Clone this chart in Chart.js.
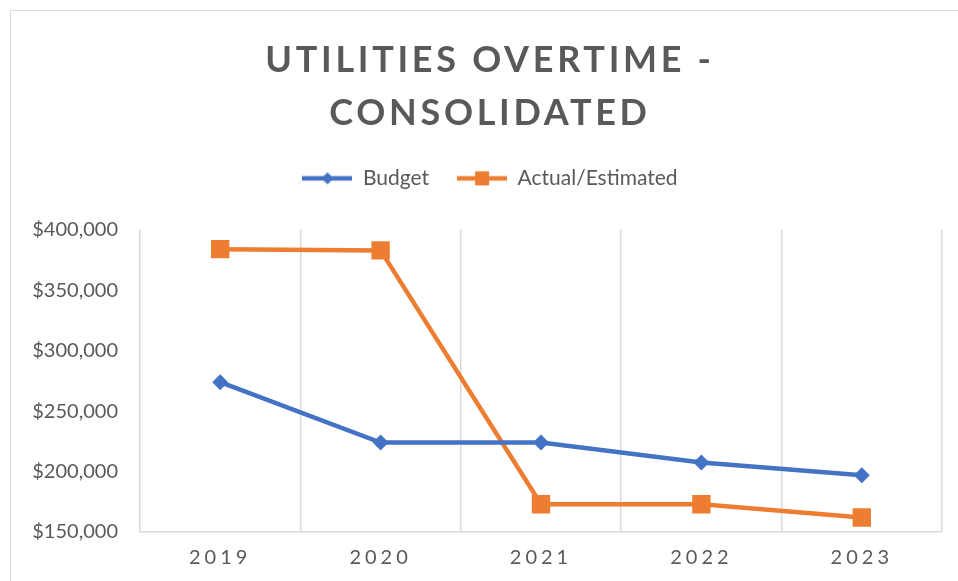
<!DOCTYPE html>
<html>
<head>
<meta charset="utf-8">
<title>Utilities Overtime - Consolidated</title>
<script src="https://cdn.jsdelivr.net/npm/chart.js@4.4.1/dist/chart.umd.min.js"></script>
<style>
  html, body { margin: 0; padding: 0; background: #fff; overflow: hidden; }
  #frame {
    position: absolute; left: 10px; top: 10px;
    width: 970px; height: 590px;
    border-left: 1px solid #d9d9d9; border-top: 1px solid #d9d9d9;
  }
  #chart-wrap { position: relative; width: 958px; height: 584px; }
</style>
</head>
<body>
<div id="frame">
  <div id="chart-wrap"><canvas id="utilities-chart"></canvas></div>
</div>
<script>
// chart data
const years = ['2019', '2020', '2021', '2022', '2023'];
const budget = [274000, 224000, 224000, 207500, 197000];
const actualEstimated = [384000, 383000, 173000, 173000, 162000];
const yMin = 150000;
const yMax = 400000;
const yStep = 50000;
const chartTitle = ['UTILITIES OVERTIME -', 'CONSOLIDATED'];

const BLUE = '#4472c4';
const ORANGE = '#ed7d31';
const TEXT = '#595959';
const GRID = '#d9d9d9';

// small line+marker swatch for the legend (like Excel's)
function legendSwatch(color, shape) {
  const c = document.createElement('canvas');
  c.width = 50; c.height = 16;
  const ctx = c.getContext('2d');
  ctx.strokeStyle = color;
  ctx.lineWidth = 4.5;
  ctx.beginPath(); ctx.moveTo(0, 8); ctx.lineTo(50, 8); ctx.stroke();
  ctx.fillStyle = color;
  if (shape === 'diamond') {
    ctx.beginPath();
    ctx.moveTo(25, 2); ctx.lineTo(31, 8); ctx.lineTo(25, 14); ctx.lineTo(19, 8);
    ctx.closePath(); ctx.fill();
  } else {
    ctx.fillRect(18, 1, 14, 14);
  }
  return c;
}
const swatches = [legendSwatch(BLUE, 'diamond'), legendSwatch(ORANGE, 'square')];

// canvas letterSpacing for the title and the year labels
function withSpacing(obj, fn, spacing) {
  if (!obj || obj['_orig_' + fn]) return;
  const orig = obj[fn];
  obj['_orig_' + fn] = orig;
  obj[fn] = function (...args) {
    const ctx = this.ctx;
    ctx.save();
    ctx.letterSpacing = spacing;
    orig.apply(this, args);
    ctx.restore();
  };
}
const spacingPlugin = {
  id: 'spacing',
  afterLayout(chart) {
    withSpacing(chart.titleBlock, 'draw', '3.7px');
    withSpacing(chart.scales.x, 'drawLabels', '4px');
  }
};

// empty axes only used as spacers (gap under legend, right margin)
const spacer = (axis, position, size) => ({
  axis: axis,
  position: position,
  display: true,
  grid: { display: false, drawTicks: false },
  border: { display: false },
  ticks: { display: false },
  afterFit(scale) {
    if (axis === 'x') scale.height = size; else scale.width = size;
  }
});

const ctx = document.getElementById('utilities-chart').getContext('2d');
new Chart(ctx, {
  type: 'line',
  data: {
    labels: years,
    datasets: [
      {
        label: 'Budget',
        data: budget,
        borderColor: BLUE,
        backgroundColor: BLUE,
        borderWidth: 4.5,
        pointStyle: 'rectRot',
        pointRadius: 8,
        pointHoverRadius: 8,
        pointBorderWidth: 0,
        tension: 0
      },
      {
        label: 'Actual/Estimated',
        data: actualEstimated,
        borderColor: ORANGE,
        backgroundColor: ORANGE,
        borderWidth: 4.5,
        pointStyle: 'rect',
        pointRadius: 13,
        pointHoverRadius: 13,
        pointBorderWidth: 0,
        tension: 0
      }
    ]
  },
  options: {
    responsive: true,
    maintainAspectRatio: false,
    animation: false,
    layout: { padding: { left: 0, right: 0, top: 0, bottom: 11 } },
    plugins: {
      title: {
        display: true,
        text: chartTitle,
        color: TEXT,
        font: { family: 'Lato', size: 36, weight: 'bold', lineHeight: 1.47 },
        padding: { top: 23, bottom: 0 }
      },
      legend: {
        position: 'top',
        labels: {
          usePointStyle: true,
          pointStyleWidth: 50,
          color: TEXT,
          font: { family: 'Lato', size: 21 },
          padding: 28,
          generateLabels(chart) {
            const items = Chart.defaults.plugins.legend.labels.generateLabels(chart);
            items.forEach((it, i) => { it.pointStyle = swatches[i]; });
            return items;
          }
        }
      },
      tooltip: { enabled: false }
    },
    scales: {
      x: {
        offset: true,
        grid: { display: true, offset: true, color: GRID, lineWidth: 1.5, drawTicks: false },
        border: { display: true, color: GRID, width: 1.5 },
        ticks: { color: TEXT, font: { family: 'Lato', size: 20 }, padding: 14 }
      },
      y: {
        min: yMin,
        max: yMax,
        afterFit(scale) { scale.width = 129; },
        grid: { display: false, drawTicks: false },
        border: { display: false },
        ticks: {
          stepSize: yStep,
          color: TEXT,
          font: { family: 'Lato', size: 20 },
          padding: 22,
          callback: value => '$' + value.toLocaleString('en-US')
        }
      },
      xTop: spacer('x', 'top', 31),
      yRight: spacer('y', 'right', 27)
    }
  },
  plugins: [spacingPlugin]
});
</script>
</body>
</html>
